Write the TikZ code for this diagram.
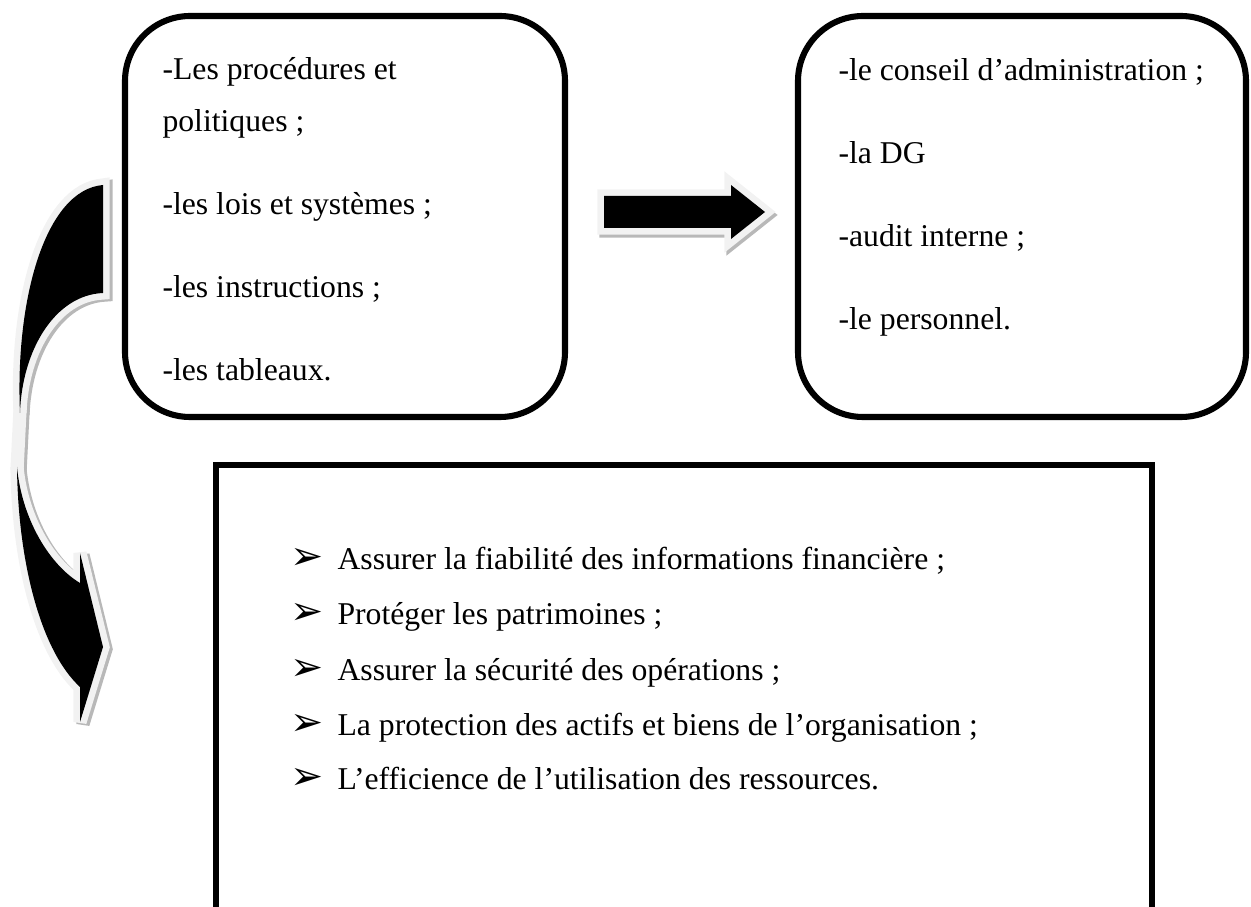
\documentclass[tikz,border=0pt]{standalone}
\usepackage{fontspec}
\setmainfont{Liberation Serif}
\newfontfamily\symfont{DejaVu Sans}
\usetikzlibrary{fit}
\begin{document}
\begin{tikzpicture}[x=0.3785pt,y=-0.3785pt,
  framebox/.style={draw=black, line width=2.3pt, inner sep=0pt, outer sep=0pt},
  roundframe/.style={framebox, rounded corners=24.6pt},
  txt/.style={anchor=base west, inner sep=0pt, font=\fontsize{12}{14}\selectfont},
  bulletsym/.style={anchor=base west, inner sep=0pt, font=\symfont\fontsize{15}{18}\selectfont},
  glow/.style={draw=black!5, line width=5pt, line join=miter, miter limit=4},
  glowshade/.style={draw=black!28, line width=5pt, line join=miter, miter limit=4},
]
\useasboundingbox (0,0) rectangle (1251,907);
\clip (0,0) rectangle (1251,907);

% the three frames
\node[roundframe, fit={(125,16) (565,417)}] (means) {};
\node[roundframe, fit={(798,16) (1246,417)}] (actors) {};
\node[framebox, fit={(216,465) (1152,940)}] (goals) {};

% straight block arrow between the upper frames
\def\blockarrow{(604,196) -- (731,196) -- (731,185) -- (765,212) -- (731,239) -- (731,228) -- (604,228) -- cycle}
\draw[glowshade, shift={(2,3)}] \blockarrow;
\draw[glow] \blockarrow;
\fill[black] \blockarrow;

% curved arrow on the left, in two black pieces
\def\upperpart{(103,185) -- (103,293) .. controls (55,295) and (22,350) .. (20,413) .. controls (15,300) and (45,190) .. (103,185) -- cycle}
\def\lowerpart{(17,467) .. controls (18,560) and (40,650) .. (80,687) -- (80,722) -- (103,647) -- (80,553) -- (80,583) .. controls (50,565) and (22,520) .. (17,467) -- cycle}
\draw[glowshade, shift={(3,2)}] \upperpart;
\draw[glowshade, shift={(3,2)}] \lowerpart;
\draw[glowshade, shift={(3,2)}] (20,410) -- (17,470);
\draw[glow] \upperpart;
\draw[glow] \lowerpart;
\draw[glow] (20,410) -- (17,470);
\fill[black] \upperpart;
\fill[black] \lowerpart;

% texts of the left frame
\node[txt] (m1) at (162,80) {-Les procédures et};
\node[txt] (m1b) at (162,132) {politiques ;};
\node[txt] (m2) at (162,215) {-les lois et systèmes ;};
\node[txt] (m3) at (162,298) {-les instructions ;};
\node[txt] (m4) at (162,381) {-les tableaux.};

% texts of the right frame
\node[txt] (a1) at (838,81) {-le conseil d’administration ;};
\node[txt] (a2) at (838,164) {-la DG};
\node[txt] (a3) at (838,247) {-audit interne ;};
\node[txt] (a4) at (838,330) {-le personnel.};

% bulleted list of the lower frame
\foreach \i/\t [count=\k] in {570/{Assurer la fiabilité des informations financière ;},
                               625/{Protéger les patrimoines ;},
                               680/{Assurer la sécurité des opérations ;},
                               735/{La protection des actifs et biens de l’organisation ;},
                               790/{L’efficience de l’utilisation des ressources.}} {
  \node[bulletsym] (g\k) at (290,\i) {➢};
  \node[txt] (t\k) at (337,\i) {\t};
}
\end{tikzpicture}
\end{document}
